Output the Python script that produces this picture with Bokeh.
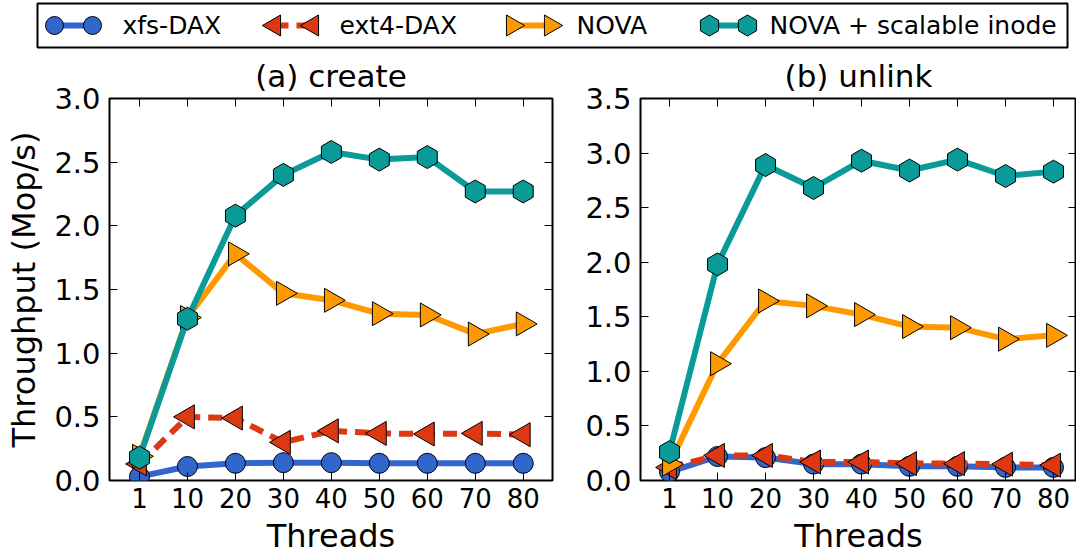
from bokeh.plotting import figure
from bokeh.layouts import column, row
from bokeh.models import Range1d, FixedTicker, LinearAxis, PrintfTickFormatter
from bokeh.core.properties import value
from bokeh.embed import file_html
from bokeh.resources import INLINE

# ---------------- data ----------------
threads = ["1", "10", "20", "30", "40", "50", "60", "70", "80"]
series_names = ["xfs-DAX", "ext4-DAX", "NOVA", "NOVA + scalable inode"]

create_xfs = [0.03, 0.11, 0.135, 0.14, 0.14, 0.135, 0.135, 0.135, 0.135]
create_ext4 = [0.13, 0.50, 0.49, 0.30, 0.39, 0.37, 0.365, 0.37, 0.36]
create_nova = [0.19, 1.28, 1.78, 1.47, 1.415, 1.31, 1.30, 1.15, 1.23]
create_scal = [0.18, 1.27, 2.08, 2.40, 2.58, 2.52, 2.54, 2.27, 2.27]

unlink_xfs = [0.08, 0.22, 0.21, 0.15, 0.15, 0.13, 0.13, 0.12, 0.12]
unlink_ext4 = [0.12, 0.23, 0.23, 0.17, 0.17, 0.155, 0.155, 0.15, 0.14]
unlink_nova = [0.15, 1.07, 1.645, 1.60, 1.52, 1.41, 1.40, 1.295, 1.33]
unlink_scal = [0.26, 1.98, 2.89, 2.68, 2.93, 2.84, 2.94, 2.79, 2.83]

y_ticks_create = [0.0, 0.5, 1.0, 1.5, 2.0, 2.5, 3.0]
y_ticks_unlink = [0.0, 0.5, 1.0, 1.5, 2.0, 2.5, 3.0, 3.5]

# ---------------- styles ----------------
FONT = "DejaVu Sans"
COLORS = ["#3366cc", "#dc3912", "#ff9900", "#0a9a98"]
MARKERS = ["circle", "triangle", "triangle", "hex"]
ANGLES = [0.0, 1.5708, -1.5708, 1.5708]
SIZES = [20, 24, 24, 23]
LEG_SIZES = [18, 21, 21, 21]
DASHES = ["solid", "14 8", "solid", "solid"]
LW = 6

# legend layout (pixel positions inside the legend strip)
LEG_SWATCH_X = [45, 265, 503, 700]
LEG_LABEL_X = [122, 339, 576, 769]
LEG_MARK_OFFSETS = [9, 47]
LEG_Y = 25

xidx = list(range(len(threads)))


def mirror_axis(ticks):
    return LinearAxis(ticker=FixedTicker(ticks=ticks), axis_line_color=None,
                      major_tick_in=8, major_tick_out=0, minor_tick_line_color=None,
                      major_tick_line_color="black",
                      major_label_text_font_size="1px", major_label_text_color=None,
                      major_label_standoff=0)


def style_axes(p, yticks, show_ylabel):
    p.grid.visible = False
    p.outline_line_color = "black"
    p.outline_line_width = 2
    p.background_fill_color = "white"
    p.border_fill_color = "white"

    xa = p.xaxis[0]
    xa.ticker = FixedTicker(ticks=xidx)
    xa.major_label_overrides = {i: t for i, t in zip(xidx, threads)}
    ya = p.yaxis[0]
    ya.ticker = FixedTicker(ticks=yticks)
    ya.formatter = PrintfTickFormatter(format="%.1f")

    for ax in (xa, ya):
        ax.axis_line_color = None
        ax.major_tick_in = 8
        ax.major_tick_out = 0
        ax.minor_tick_line_color = None
        ax.major_tick_line_color = "black"
        ax.major_label_text_font = FONT
        ax.major_label_text_color = "black"
        ax.axis_label_text_font = FONT
        ax.axis_label_text_font_style = "normal"
        ax.axis_label_text_color = "black"
        ax.axis_label_text_font_size = "32px"
    xa.major_label_text_font_size = "26px"
    ya.major_label_text_font_size = "29px"
    xa.major_label_standoff = 7
    ya.major_label_standoff = 9
    xa.axis_label = "Threads"
    xa.axis_label_standoff = 6
    if show_ylabel:
        ya.axis_label = "Throughput (Mop/s)"
        ya.axis_label_standoff = 8

    p.add_layout(mirror_axis(xidx), "above")
    p.add_layout(mirror_axis(yticks), "right")


def make_panel(title, data, ymax, xr, yticks, show_ylabel, frame_w, bl, br):
    p = figure(frame_width=frame_w, frame_height=382,
               x_range=Range1d(*xr), y_range=Range1d(0, ymax),
               output_backend="svg", toolbar_location=None,
               min_border_left=bl, min_border_right=br,
               min_border_top=48, min_border_bottom=30)
    p.title.text = title
    p.title.align = "center"
    p.title.text_font = FONT
    p.title.text_font_size = "31px"
    p.title.text_font_style = "normal"
    p.title.text_color = "black"
    style_axes(p, yticks, show_ylabel)
    for ys, c, m, a, s, d in zip(data, COLORS, MARKERS, ANGLES, SIZES, DASHES):
        p.line(xidx, ys, line_color=c, line_width=LW, line_dash=d)
        p.scatter(xidx, ys, marker=m, angle=a, size=s, fill_color=c,
                  line_color="black", line_width=1)
    return p


p1 = make_panel("(a) create", [create_xfs, create_ext4, create_nova, create_scal],
                3.0, (-0.625, 8.61), y_ticks_create, True, 443, 109, 10)
p2 = make_panel("(b) unlink", [unlink_xfs, unlink_ext4, unlink_nova, unlink_scal],
                3.5, (-0.604, 8.479), y_ticks_unlink, False, 436, 78, 0)

# ---------------- legend strip (key drawn in pixel units) ----------------
lg = figure(frame_width=1030, frame_height=44, output_backend="svg",
            toolbar_location=None, x_range=Range1d(37, 1067), y_range=Range1d(47, 3),
            min_border_left=37, min_border_right=10, min_border_top=3,
            min_border_bottom=3)
lg.axis.visible = False
lg.grid.visible = False
lg.outline_line_color = "black"
lg.outline_line_width = 2
for sx, c, m, a, s, d in zip(LEG_SWATCH_X, COLORS, MARKERS, ANGLES, LEG_SIZES, DASHES):
    mx = [sx + o for o in LEG_MARK_OFFSETS]
    lg.segment(x0=[mx[0]], y0=[LEG_Y], x1=[mx[1]], y1=[LEG_Y],
               line_color=c, line_width=LW, line_dash=d)
    lg.scatter(mx, [LEG_Y, LEG_Y], marker=m, angle=a, size=s, fill_color=c,
               line_color="black", line_width=1)
lg.text(x=LEG_LABEL_X, y=[LEG_Y] * len(series_names), text=series_names,
        text_baseline="middle", text_align="left", text_color="black",
        text_font=value(FONT), text_font_size="25px")

layout = column(lg, row(p1, p2, spacing=0), spacing=0)
open("out.html", "w").write(file_html(layout, INLINE))
